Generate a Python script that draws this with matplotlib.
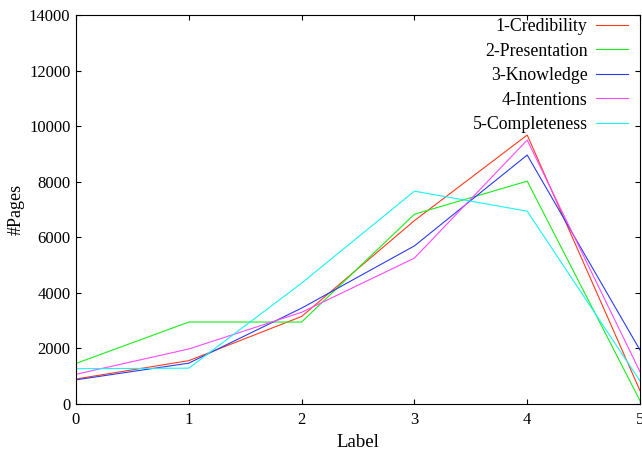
import matplotlib.pyplot as plt

labels = [0, 1, 2, 3, 4, 5]
credibility = [900, 1560, 3150, 6600, 9680, 480]
presentation = [1460, 2950, 2950, 6830, 8020, 120]
knowledge = [870, 1470, 3450, 5690, 8960, 1940]
intentions = [1070, 1980, 3300, 5250, 9500, 1160]
completeness = [1270, 1290, 4350, 7660, 6940, 830]

series = [
    ("1-Credibility", credibility, "#ff3a1a"),
    ("2-Presentation", presentation, "#18ee18"),
    ("3-Knowledge", knowledge, "#2a3cf0"),
    ("4-Intentions", intentions, "#ff48ff"),
    ("5-Completeness", completeness, "#18f4f4"),
]

plt.rcParams['font.family'] = ['Liberation Serif', 'DejaVu Serif']
plt.rcParams['font.size'] = 12

fig = plt.figure(figsize=(6.42, 4.54), dpi=100)
ax = fig.add_axes([76 / 642, 50 / 454, 564 / 642, 389 / 454])

for name, vals, col in series:
    ax.plot(labels, vals, color=col, lw=0.8, label=name)

ax.set_xlim(0, 5)
ax.set_ylim(0, 14000)
ax.set_xticks(labels)
ax.set_yticks(range(0, 14001, 2000))
ax.tick_params(direction='in', top=True, right=True, length=3.8, width=0.8, pad=4)
ax.tick_params(axis='x', pad=6)
for s in ax.spines.values():
    s.set_linewidth(0.8)

ax.set_xlabel("Label", fontsize=13.5, labelpad=4)
ax.set_ylabel("#Pages", fontsize=13, labelpad=3)

ax.legend(loc='upper right', bbox_to_anchor=(0.989, 1.008), frameon=False,
          markerfirst=False, handlelength=1.75, handletextpad=0.5,
          labelspacing=0.42, borderaxespad=0.0, borderpad=0.35, fontsize=12.8)

fig.savefig("out.png")
